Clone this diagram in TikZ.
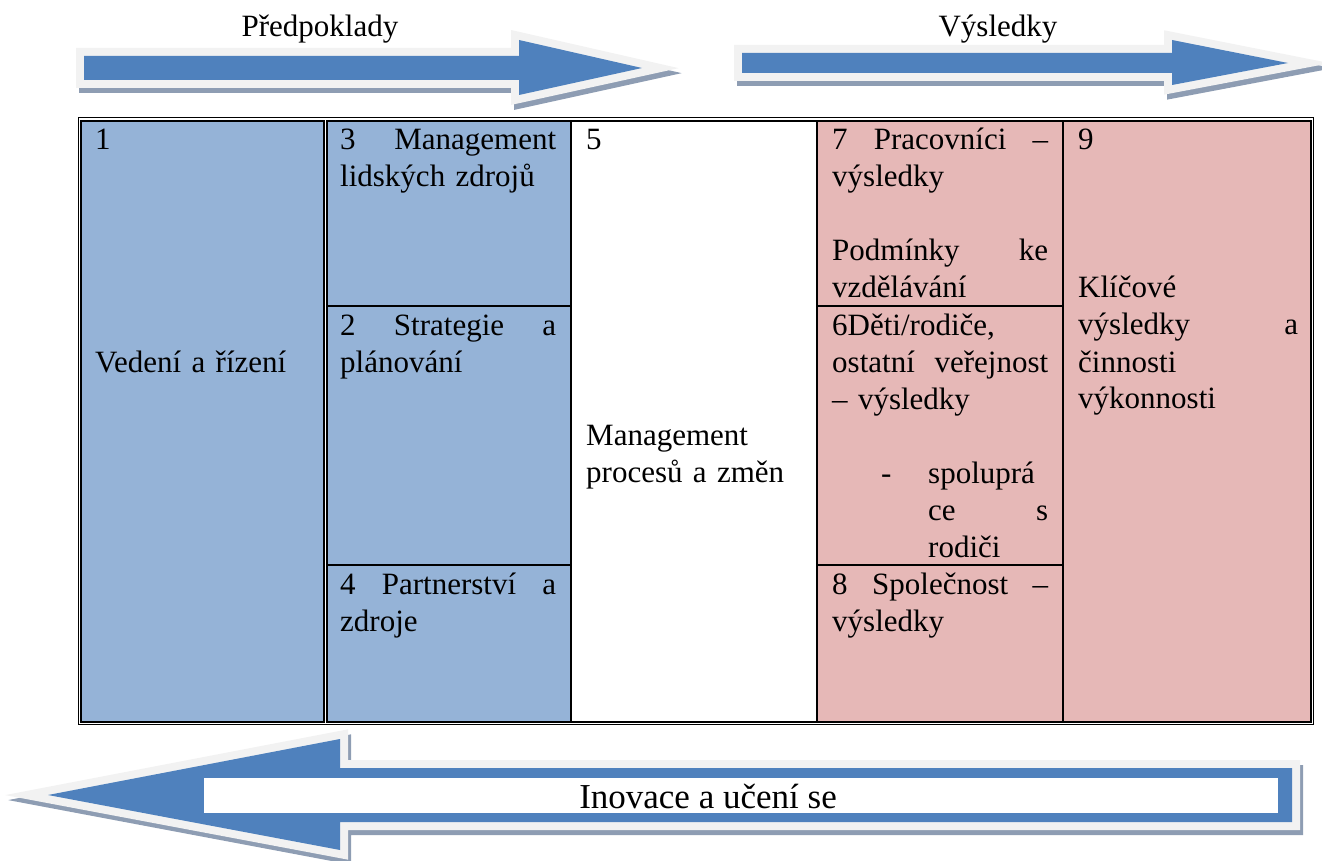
\documentclass[tikz,border=0pt]{standalone}
\usepackage{fontspec}
\setmainfont{Liberation Serif}
\definecolor{sipkamodra}{HTML}{4F81BD}
\definecolor{sipkalem}{HTML}{F2F2F2}
\definecolor{sipkastin}{HTML}{8E9DB3}
\definecolor{bunkamodra}{HTML}{95B3D7}
\definecolor{bunkaruzova}{HTML}{E6B8B7}
\newcommand{\pismo}{\fontsize{31}{37}\selectfont}
\tikzset{
    stin/.style={fill=sipkastin,draw=sipkastin,line width=16pt,shift={(3,5)}},
    lem/.style={fill=sipkalem,draw=sipkalem,line width=16pt},
    vypln/.style={fill=sipkamodra},
    bunkatext/.style={anchor=base west,inner sep=0pt,text width=216pt,align=left,font=\pismo},
    popis/.style={anchor=base,inner sep=0pt,font=\pismo}
}
\newcommand{\sipka}[1]{%
    \filldraw[stin] #1;
    \filldraw[lem] #1;
    \fill[vypln] #1;}
\begin{document}
\begin{tikzpicture}[x=1pt,y=-1pt]
        \useasboundingbox (0,0) rectangle (1322,861);
        %Sipky nahore
        \begin{scope}
            \sipka{(84,56) -- (519,56) -- (519,40) -- (642,68) -- (519,95) -- (519,80) -- (84,80) -- cycle}
            \sipka{(742,53) -- (1172,53) -- (1172,40) -- (1288,63) -- (1172,85) -- (1172,73) -- (742,73) -- cycle}
            \node[popis] (predpoklady) at (320,37) {Předpoklady};
            \node[popis] (vysledky) at (998,37) {Výsledky};
        \end{scope}
        %Tabulka
        \begin{scope}
            \draw[line width=1pt] (78,118) rectangle (1313,724);
            \foreach \xa/\ya/\xb/\yb/\barva in {81/121/324/722/bunkamodra, 327/121/571/306/bunkamodra,
                327/306/571/565/bunkamodra, 327/565/571/722/bunkamodra, 571/121/817/722/white,
                817/121/1063/306/bunkaruzova, 817/306/1063/565/bunkaruzova,
                817/565/1063/722/bunkaruzova, 1063/121/1311/722/bunkaruzova}
            \filldraw[fill=\barva,line width=1.5pt] (\xa,\ya) rectangle (\xb,\yb);
            \node[bunkatext] (vedeni) at (95,150) {1\\[185pt]Vedení a řízení};
            \node[bunkatext] (lidske) at (340,150) {3\hfill Management\\lidských zdrojů};
            \node[bunkatext] (strategie) at (340,335) {2\hfill Strategie\hfill a\\plánování};
            \node[bunkatext] (partnerstvi) at (340,594) {4\hfill Partnerství\hfill a\\zdroje};
            \node[bunkatext] (procesy) at (586,150) {5\\[259pt]Management\\procesů a změn};
            \node[bunkatext] (pracovnici) at (832,150) {7\hfill Pracovníci\hfill –\\výsledky\\[37pt]Podmínky\hfill ke\\vzdělávání};
            \node[bunkatext] (rodice) at (832,335) {6Děti/rodiče,\\ostatní\hfill veřejnost\\– výsledky\\[37pt]%
                \makebox[96pt][l]{\hspace*{49pt}-}spoluprá\\\hspace*{96pt}ce\hfill s\\\hspace*{96pt}rodiči};
            \node[bunkatext] (spolecnost) at (832,594) {8\hfill Společnost\hfill –\\výsledky};
            \node[bunkatext,text width=220pt] (klicove) at (1078,150) {9\\[111pt]Klíčové\\výsledky\hfill a\\činnosti\\výkonnosti};
        \end{scope}
        %Sipka dole
        \begin{scope}
            \sipka{(1292,768) -- (340,768) -- (340,739) -- (48,795) -- (340,850) -- (340,822) -- (1292,822) -- cycle}
            \node[fill=white,minimum width=1074pt,minimum height=35pt,inner sep=0pt,anchor=west] (inovbox) at (204,795.5) {};
            \node[popis,font=\fontsize{35}{40}\selectfont] (inovace) at (708,808) {Inovace a učení se};
        \end{scope}
    \end{tikzpicture}
\end{document}
